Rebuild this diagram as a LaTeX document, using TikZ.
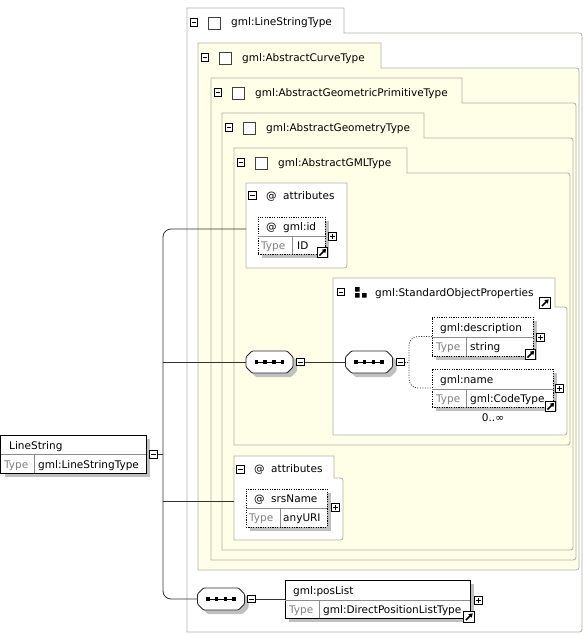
\documentclass[tikz,border=0pt]{standalone}
\usepackage{fontspec}
\setmainfont{DejaVu Sans}
\usetikzlibrary{arrows.meta,calc}
\definecolor{bord}{RGB}{176,176,168}
\definecolor{cream}{RGB}{255,255,231}
\definecolor{shad}{RGB}{192,192,192}
\definecolor{typegray}{RGB}{128,128,128}
\definecolor{divc}{RGB}{140,140,140}

\newcommand\tabbox[7]{%
  \filldraw[draw=bord, fill=#7, line width=0.8pt] (#1,#6) -- (#1,#2) -- (#3,#2) -- (#3,#4) -- (#5-6,#4) .. controls (#5,#4) .. (#5,#4+6) -- (#5,#6-6) .. controls (#5,#6) .. (#5-6,#6) -- cycle;}
\newcommand\layerhead[4]{%
  \node[minusbox] (#1m) at (#2+7,#3+14.5) {};
  \node[sqbox] (#1s) at (#2+27.5,#3+15) {};
  \node[txt] (#1t) at (#2+44,#3+18) {#4};}
\newcommand\elem[8]{%
  \fill[shad] (#2+4,#3+4) rectangle (#4+4,#5+4);
  \node[draw=black, fill=white, line width=0.8pt, #8, anchor=north west, minimum width=#4-#2, minimum height=#5-#3, outer sep=0pt] (#1) at (#2,#3) {};
  \draw[divline] (#2,#6) -- (#4,#6) (#7,#6) -- (#7,#5);}
\newcommand\seqnode[3]{%
  \begin{scope}[shift={(#2,#3)}]
    \fill[shad,rounded corners=1] (-13.5,-7) -- (21.5,-7) -- (27.5,-1) -- (27.5,9) -- (21.5,15) -- (-13.5,15) -- (-19.5,9) -- (-19.5,-1) -- cycle;
    \filldraw[fill=white,draw=black!85,line width=0.8pt,rounded corners=1] (-17.5,-11) -- (17.5,-11) -- (23.5,-5) -- (23.5,5) -- (17.5,11) -- (-17.5,11) -- (-23.5,5) -- (-23.5,-5) -- cycle;
    \draw[line width=0.8pt] (-14,0) -- (14,0);
    \foreach \dx in {-13,-4.5,4.5,13} \fill (\dx-1.8,-1.8) rectangle (\dx+1.8,1.8);
  \end{scope}
  \node[minimum width=47pt, minimum height=22pt] (#1) at (#2,#3) {};}

\begin{document}
\begin{tikzpicture}[x=1pt,y=-1pt,
  every node/.style={font=\fontsize{10.5}{12}\selectfont, inner sep=0pt},
  txt/.style={anchor=base west},
  tlab/.style={anchor=base west, text=typegray},
  divline/.style={draw=divc, line width=0.7pt},
  dotbox/.style={dash pattern=on 1.2pt off 1.2pt},
  solidbox/.style={solid},
  conn/.style={draw=black!80, line width=0.8pt},
  dotconn/.style={conn, dash pattern=on 1pt off 1.5pt},
  minusbox/.style={draw=black, fill=white, line width=0.7pt, minimum size=7.5pt,
    path picture={\draw[line width=0.7pt] ([xshift=1.6pt]path picture bounding box.west) -- ([xshift=-1.6pt]path picture bounding box.east);}},
  plusbox/.style={draw=black, fill=white, line width=0.7pt, minimum size=7.5pt,
    path picture={\draw[line width=0.7pt] ([xshift=1.6pt]path picture bounding box.west) -- ([xshift=-1.6pt]path picture bounding box.east)
      ([yshift=1.6pt]path picture bounding box.south) -- ([yshift=-1.6pt]path picture bounding box.north);}},
  sqbox/.style={draw=black!75, fill=white, line width=0.8pt, minimum width=12.5pt, minimum height=12pt},
  linkbox/.style={draw=black, fill=white, line width=0.8pt, minimum size=10.5pt,
    path picture={\draw[line width=1.5pt, -{Triangle[length=3.6pt,width=4.6pt]}] ([shift={(2.2pt,2.2pt)}]path picture bounding box.south west) -- ([shift={(-1.6pt,-1.6pt)}]path picture bounding box.north east);}},
]
\useasboundingbox (0,0) rectangle (584,634);

% nested type boxes
\tabbox{187}{8}{344}{33}{582}{632}{white}
\tabbox{198}{43}{381}{68}{579}{570}{cream}
\tabbox{211}{78}{462}{103}{576}{560}{cream}
\tabbox{222}{113}{424}{138}{573}{550}{cream}
\tabbox{234}{148}{407}{173}{570}{445}{cream}
\layerhead{l1}{187}{8}{gml:LineStringType}
\layerhead{l2}{198}{43}{gml:AbstractCurveType}
\layerhead{l3}{211}{78}{gml:AbstractGeometricPrimitiveType}
\layerhead{l4}{222}{113}{gml:AbstractGeometryType}
\layerhead{l5}{234}{148}{gml:AbstractGMLType}

% StandardObjectProperties group
\tabbox{333}{278}{555}{307}{567}{435}{white}
\node[minusbox] (sopm) at (341,292) {};
\fill (355,287) rectangle (359.5,291.5) (355,293) rectangle (359.5,297.5) (362,293) rectangle (366.5,297.5);
\node[txt] (sopt) at (375,296) {gml:StandardObjectProperties};
\node[linkbox] (sopl) at (545,303) {};

% attributes box 1
\filldraw[draw=bord, fill=white, line width=0.8pt] (246,268) -- (246,183) -- (347,183) -- (347,262) .. controls (347,268) .. (341,268) -- cycle;
\node[minusbox] (at1m) at (252.5,195.5) {};
\node[txt] (at1a) at (266,199) {@};
\node[txt] (at1t) at (283,199) {attributes};
% attributes box 2
\tabbox{234}{456}{334}{478}{343}{540}{white}
\node[minusbox] (at2m) at (240.5,469.5) {};
\node[txt] (at2a) at (254,472) {@};
\node[txt] (at2t) at (271,472) {attributes};

\coordinate (a1) at (246,229);
\coordinate (a2) at (234,501);

% sequences
\seqnode{seq1}{269.5}{362}
\node[minusbox] (seq1m) at (300.5,362) {};
\seqnode{seq2}{369}{362}
\node[minusbox] (seq2m) at (400.5,362) {};
\seqnode{seq3}{221}{599}
\node[minusbox] (seq3m) at (251.5,599) {};

% elements
\elem{lsbox}{0.5}{435}{146}{473}{454}{34}{solidbox}
\node[txt] (lsn) at (9,449) {LineString};
\node[tlab] (lstl) at (4,468) {Type};
\node[txt] (lstv) at (38,468) {gml:LineStringType};
\node[minusbox] (lsm) at (153.5,454.5) {};

\elem{idbox}{258}{217}{325}{254}{236}{292}{dotbox}
\node[txt] (ida) at (266,230) {@};
\node[txt] (idn) at (283,230) {gml:id};
\node[tlab] (idtl) at (261,249) {Type};
\node[txt] (idtv) at (297,249) {ID};
\node[plusbox] (idp) at (332.5,236.5) {};
\node[linkbox] (idl) at (322.5,252.5) {};

\elem{descbox}{432}{317}{533}{356}{337}{466}{dotbox}
\node[txt] (descn) at (440,331) {gml:description};
\node[tlab] (desctl) at (436,350) {Type};
\node[txt] (desctv) at (470,350) {string};
\node[plusbox] (descp) at (540.5,337.5) {};
\node[linkbox] (descl) at (530.5,354.5) {};

\elem{namebox}{432}{369}{553}{407}{389}{466}{dotbox}
\node[txt] (namen) at (440,383) {gml:name};
\node[tlab] (nametl) at (436,402) {Type};
\node[txt] (nametv) at (470,402) {gml:CodeType};
\node[plusbox] (namep) at (559.5,388.5) {};
\node[linkbox] (namel) at (550.5,406.5) {};
\node[anchor=base] (namecard) at (493,421) {0..∞};

\elem{srsbox}{246}{489}{327}{527}{508}{280}{dotbox}
\node[txt] (srsa) at (254,502) {@};
\node[txt] (srsn) at (271,502) {srsName};
\node[tlab] (srstl) at (249,521) {Type};
\node[txt] (srstv) at (283,521) {anyURI};
\node[plusbox] (srsp) at (335.5,507.5) {};

\elem{posbox}{285}{580}{470}{618}{600}{319}{solidbox}
\node[txt] (posn) at (293,594) {gml:posList};
\node[tlab] (postl) at (289,613) {Type};
\node[txt] (postv) at (323,613) {gml:DirectPositionListType};
\node[plusbox] (posp) at (478.5,600.5) {};
\node[linkbox] (posl) at (469,617) {};

% connectors
\draw[conn,rounded corners=8] (a1) -- (163,229) -- (163,599) -- (seq3.west);
\draw[conn] (163,362) -- (seq1.west);
\draw[conn] (163,501) -- (a2);
\draw[conn] (lsm.east) -- (163,454.5);
\draw[conn] (seq1m.east) -- (seq2.west);
\draw[conn] (seq3m.east) -- (posbox.west);
\draw[dotconn] (seq2m.east) -- (409,362);
\draw[dotconn,rounded corners=9] (descbox.west) -- (409,336.5) -- (409,388) -- (namebox.west);
\end{tikzpicture}
\end{document}
